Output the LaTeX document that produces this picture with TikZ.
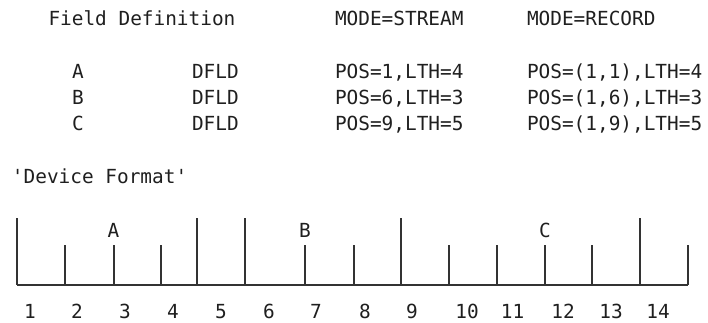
\documentclass[tikz,border=0pt]{standalone}
\usepackage{fontspec}
\setmonofont{DejaVu Sans Mono}
\begin{document}
\begin{tikzpicture}[x=1pt,y=-1pt,
  txt/.style={anchor=base west,inner sep=0pt,outer sep=0pt,text=black!88,font=\ttfamily\fontsize{19.4}{20}\selectfont},
  ctxt/.style={anchor=base,inner sep=0pt,outer sep=0pt,text=black!88,font=\ttfamily\fontsize{19.4}{20}\selectfont},
  rule/.style={line width=1.3pt,draw=black!80}]
\useasboundingbox (0,0) rectangle (708,322);
% header
\node[txt] (hfd) at (48.5,25.5) {Field Definition};
\node[txt] (hms) at (335,25.5) {MODE=STREAM};
\node[txt] (hmr) at (527,25.5) {MODE=RECORD};
% rows
\node[txt] (ra) at (72,78.5) {A};
\node[txt] (rad) at (192,78.5) {DFLD};
\node[txt] (ras) at (335,78.5) {POS=1,LTH=4};
\node[txt] (rar) at (527,78.5) {POS=(1,1),LTH=4};
\node[txt] (rb) at (72,104) {B};
\node[txt] (rbd) at (192,104) {DFLD};
\node[txt] (rbs) at (335,104) {POS=6,LTH=3};
\node[txt] (rbr) at (527,104) {POS=(1,6),LTH=3};
\node[txt] (rc) at (72,130.5) {C};
\node[txt] (rcd) at (192,130.5) {DFLD};
\node[txt] (rcs) at (335,130.5) {POS=9,LTH=5};
\node[txt] (rcr) at (527,130.5) {POS=(1,9),LTH=5};
% device format
\node[txt] (dev) at (12,183) {'Device Format'};
% ruler
\coordinate (bl) at (17,285);
\coordinate (br) at (688,285);
\draw[rule] (bl) -- (br);
\foreach \x [count=\i] in {17,197,245,401,640}{
  \coordinate (tt\i) at (\x,218);
  \coordinate (tb\i) at (\x,285);
  \draw[rule] (tt\i) -- (tb\i);
}
\foreach \x [count=\i] in {65,114,161,305,354,449,497,545,592,688}{
  \coordinate (st\i) at (\x,245);
  \coordinate (sb\i) at (\x,285);
  \draw[rule] (st\i) -- (sb\i);
}
% field labels
\node[ctxt] (la) at (113.5,237.5) {A};
\node[ctxt] (lb) at (305,237.5) {B};
\node[ctxt] (lc) at (545,237.5) {C};
% numbers
\foreach \x [count=\i] in {30,77,125,173,221,269,316,365,412,467,512.5,563,611,658}{
  \node[ctxt] (n\i) at (\x,318) {\i};
}
\end{tikzpicture}
\end{document}
